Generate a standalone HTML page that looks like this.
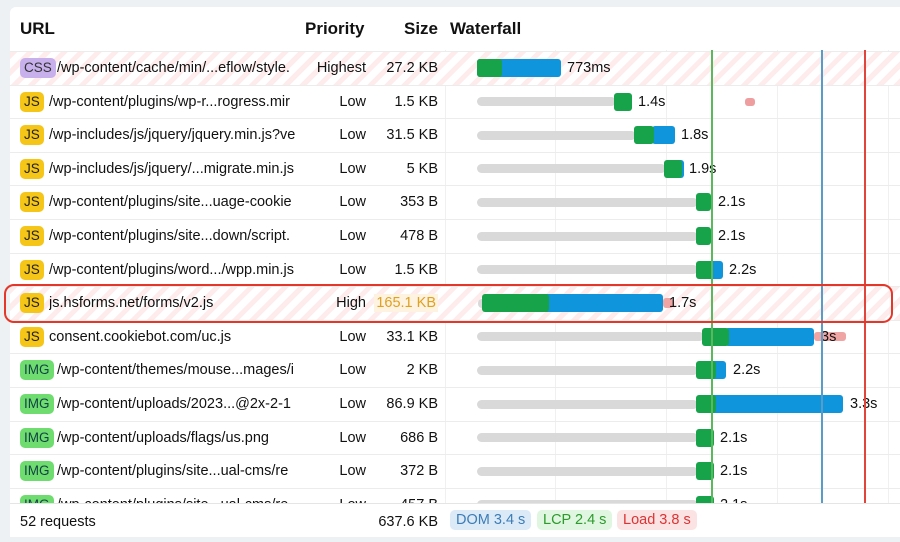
<!DOCTYPE html>
<html><head><style>
*{margin:0;padding:0;box-sizing:border-box}
body{width:900px;height:542px;background:#eef1f4;font-family:"Liberation Sans",sans-serif;position:relative;overflow:hidden;color:#111}
.card{position:absolute;left:10px;top:7px;width:900px;height:530px;background:#fff;border-radius:6px}
.a{position:absolute;white-space:nowrap}
.h{font-weight:bold;font-size:17px;top:19px}
.row{position:absolute;left:10px;width:890px;height:34px;border-top:1px solid #ececec}
.stripe{background:repeating-linear-gradient(135deg,#fdeceb 0 5px,#fff 5px 12px)}
.t{font-size:14.5px;line-height:18px}
.badge{position:absolute;left:20px;height:20px;border-radius:5px;font-size:13.5px;line-height:20px;padding:0 4px}
.js{background:#f5c518;color:#222}
.css{background:#c8b0ec;color:#333}
.img{background:#6fdc6f;color:#144}
.bar{position:absolute;height:18px;border-radius:3px}
.g{background:#16a34a}.b{background:#0f95dc}.gr{background:#d9d9d9;height:9px;border-radius:5px}
.vl{position:absolute;top:50px;height:453px;width:1px;background:#f0f0f0}
</style></head><body>
<div class="card"></div>
<div class="a h" style="left:20px">URL</div>
<div class="a h" style="left:305px">Priority</div>
<div class="a h" style="left:404px">Size</div>
<div class="a h" style="left:450px">Waterfall</div>
<div class="vl" style="left:445px"></div>
<div class="vl" style="left:555px"></div>
<div class="vl" style="left:666px"></div>
<div class="vl" style="left:777px"></div>
<div class="vl" style="left:888px"></div>
<div id="rows"></div>
<script>
const R=[
["css","CSS","/wp-content/cache/min/...eflow/style.","Highest","27.2 KB",[[477,561,'b'],[477,502,'g']],"773ms",567,1],
["js","JS","/wp-content/plugins/wp-r...rogress.mir","Low","1.5 KB",[[477,616,'gr'],[614,632,'g']],"1.4s",638],
["js","JS","/wp-includes/js/jquery/jquery.min.js?ve","Low","31.5 KB",[[477,636,'gr'],[652,675,'b'],[634,654,'g']],"1.8s",681],
["js","JS","/wp-includes/js/jquery/...migrate.min.js","Low","5 KB",[[477,666,'gr'],[670,684,'b'],[664,682,'g']],"1.9s",689],
["js","JS","/wp-content/plugins/site...uage-cookie","Low","353 B",[[477,698,'gr'],[696,711,'g']],"2.1s",718],
["js","JS","/wp-content/plugins/site...down/script.","Low","478 B",[[477,698,'gr'],[696,711,'g']],"2.1s",718],
["js","JS","/wp-content/plugins/word.../wpp.min.js","Low","1.5 KB",[[477,698,'gr'],[705,723,'b'],[696,713,'g']],"2.2s",729],
["js","JS","js.hsforms.net/forms/v2.js","High","165.1 KB",[[478,486,'gr'],[540,663,'b'],[482,549,'g']],"1.7s",669,1],
["js","JS","consent.cookiebot.com/uc.js","Low","33.1 KB",[[477,704,'gr'],[725,814,'b'],[702,729,'g']],"3s",821],
["img","IMG","/wp-content/themes/mouse...mages/i","Low","2 KB",[[477,698,'gr'],[708,726,'b'],[696,716,'g']],"2.2s",733],
["img","IMG","/wp-content/uploads/2023...@2x-2-1","Low","86.9 KB",[[477,698,'gr'],[708,843,'b'],[696,716,'g']],"3.3s",850],
["img","IMG","/wp-content/uploads/flags/us.png","Low","686 B",[[477,698,'gr'],[696,714,'g']],"2.1s",720],
["img","IMG","/wp-content/plugins/site...ual-cms/re","Low","372 B",[[477,698,'gr'],[696,714,'g']],"2.1s",720],
["img","IMG","/wp-content/plugins/site...ual-cms/re","Low","457 B",[[477,698,'gr'],[696,714,'g']],"2.1s",720]];
let h='';
R.forEach((r,i)=>{const top=51+i*33.6,c=top+17;
h+=`<div class="row ${r[8]?'stripe':''}" style="top:${top}px"></div>`;
h+=`<div class="badge ${r[0]}" style="top:${c-10}px">${r[1]}</div>`;
const ux=r[0]=='js'?49:57;
h+=`<div class="a t" style="left:${ux}px;top:${c-9}px;width:${302-ux}px;overflow:hidden">${r[2]}</div>`;
h+=`<div class="a t" style="right:${900-366}px;top:${c-9}px">${r[3]}</div>`;
h+=`<div class="a t" style="right:${900-438}px;top:${c-9}px;${i==7?'color:#e0a020;background:#fdf3e0;padding:0 2px':''}">${r[4]}</div>`;
if(i==7)h+=`<div class="bar" style="left:663px;width:10px;height:10px;top:${c-5}px;background:#f0a5a5"></div>`;
if(i==8)h+=`<div class="bar" style="left:814px;width:32px;height:9px;top:${c-4.5}px;background:#f0a5a5"></div>`;
r[5].forEach(b=>{const gr=b[2]=='gr';h+=`<div class="bar ${b[2]}" style="left:${b[0]}px;width:${b[1]-b[0]}px;top:${gr?c-4.5:c-9}px"></div>`});
if(i==1)h+=`<div class="bar" style="left:745px;width:10px;height:8px;top:${c-4}px;background:#ee9e9e"></div>`;
h+=`<div class="a t" style="left:${r[7]}px;top:${c-9}px">${r[6]}</div>`;});
document.getElementById('rows').innerHTML=h;
</script>
<div class="a" style="left:711px;top:50px;width:1.5px;height:453px;background:#5cb85c"></div>
<div class="a" style="left:821px;top:50px;width:1.5px;height:453px;background:#5a9cc8"></div>
<div class="a" style="left:864px;top:50px;width:1.5px;height:453px;background:#e0443a"></div>
<div class="a" style="left:4px;top:284px;width:889px;height:39px;border:2px solid #e5362a;border-radius:10px"></div>
<div class="a" style="left:10px;top:503px;width:890px;height:34px;background:#fff;border-top:1px solid #e5e5e5"></div>
<div class="a t" style="left:20px;top:513px">52 requests</div>
<div class="a t" style="right:462px;top:513px">637.6 KB</div>
<div class="a t" style="left:450px;top:510px;padding:1px 6px;background:#dbeaf6;color:#3c7cb8;border-radius:5px">DOM 3.4 s</div>
<div class="a t" style="left:537px;top:510px;padding:1px 6px;background:#e0f6e0;color:#2c9a2c;border-radius:5px">LCP 2.4 s</div>
<div class="a t" style="left:617px;top:510px;padding:1px 6px;background:#fbe3e3;color:#d33;border-radius:5px">Load 3.8 s</div>
</body></html>
